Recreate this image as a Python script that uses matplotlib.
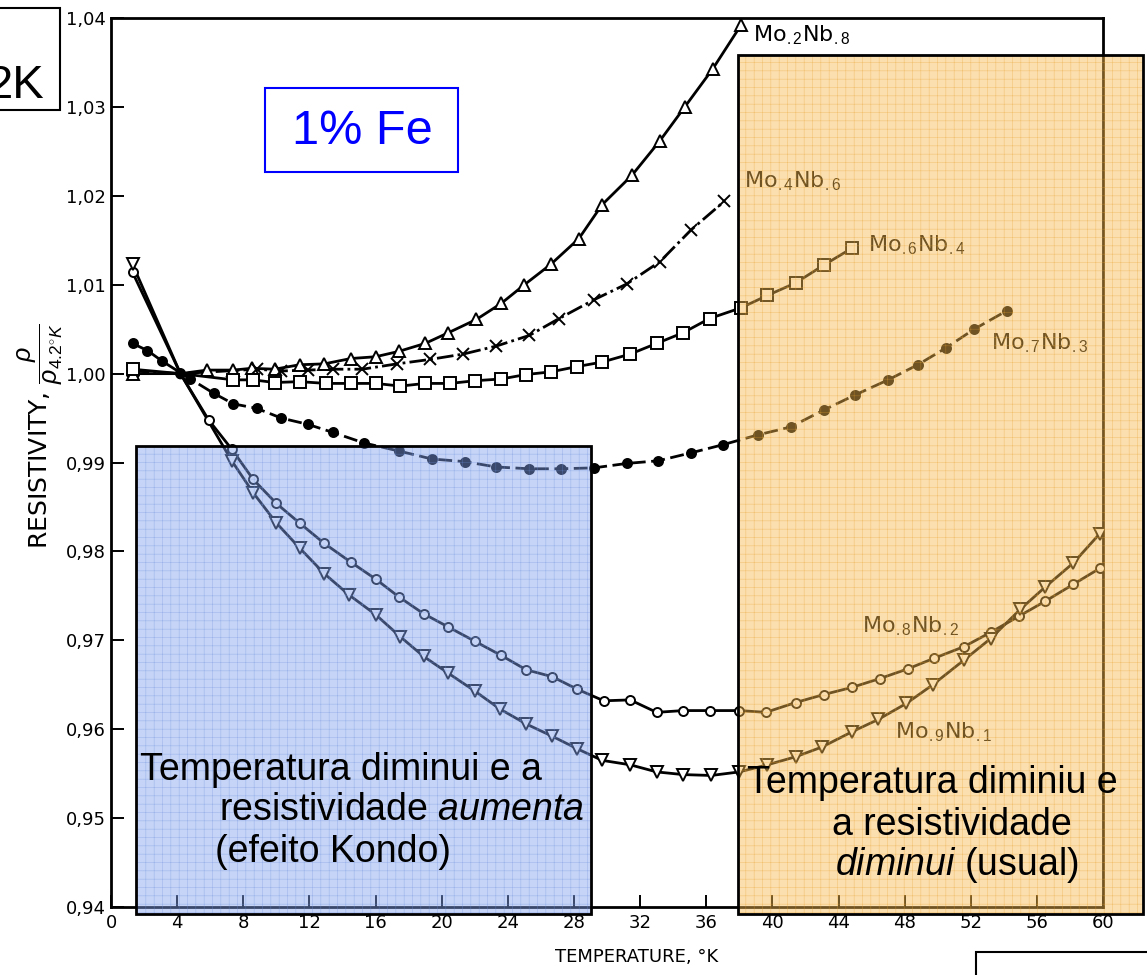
import numpy as np
import matplotlib
matplotlib.use("Agg")
import matplotlib.pyplot as plt
from matplotlib.patches import Rectangle

plt.rcParams["mathtext.fontset"] = "custom"
plt.rcParams["mathtext.rm"] = "Liberation Sans"
plt.rcParams["mathtext.it"] = "Liberation Sans:italic"
plt.rcParams["hatch.linewidth"] = 0.4

# --- data (T in K, rho / rho_4.2K) ---
t_28 = [1.3, 4.2, 5.8, 7.4, 8.5, 9.9, 11.4, 12.9, 14.5, 16.0, 17.4, 19.0, 20.4, 22.1,
        23.6, 25.0, 26.6, 28.3, 29.7, 31.5, 33.2, 34.7, 36.4, 38.1]
r_28 = [1.0000, 1.0000, 1.0004, 1.0004, 1.0006, 1.0005, 1.0010, 1.0011, 1.0017, 1.0019,
        1.0025, 1.0034, 1.0046, 1.0061, 1.0079, 1.0100, 1.0123, 1.0152, 1.0190, 1.0223,
        1.0262, 1.0300, 1.0343, 1.0392]

t_46 = [1.3, 4.2, 8.8, 10.3, 11.9, 13.4, 15.2, 17.3, 19.3, 21.3, 23.3, 25.3, 27.1, 29.2,
        31.2, 33.2, 35.1, 37.1]
r_46 = [1.0003, 1.0000, 1.0005, 1.0003, 1.0004, 1.0005, 1.0005, 1.0011, 1.0016, 1.0022,
        1.0031, 1.0043, 1.0062, 1.0083, 1.0101, 1.0126, 1.0162, 1.0194]

t_64 = [1.3, 4.2, 7.4, 8.6, 9.9, 11.4, 13.0, 14.5, 16.0, 17.5, 19.0, 20.5, 22.0, 23.6,
        25.1, 26.6, 28.2, 29.7, 31.4, 33.0, 34.6, 36.2, 38.1, 39.7, 41.4, 43.1, 44.8]
r_64 = [1.0005, 1.0000, 0.9993, 0.9993, 0.9990, 0.9991, 0.9989, 0.9989, 0.9989, 0.9986,
        0.9989, 0.9989, 0.9992, 0.9994, 0.9999, 1.0002, 1.0008, 1.0013, 1.0022, 1.0034,
        1.0046, 1.0062, 1.0074, 1.0088, 1.0102, 1.0122, 1.0141]

t_73 = [1.3, 2.2, 3.1, 4.2, 4.8, 6.2, 7.4, 8.8, 10.3, 11.9, 13.4, 15.3, 17.4, 19.4, 21.4,
        23.3, 25.3, 27.2, 29.2, 31.2, 33.1, 35.1, 37.0, 39.1, 41.1, 43.1, 45.0, 47.0, 48.8,
        50.5, 52.2, 54.2]
r_73 = [1.0034, 1.0026, 1.0014, 1.0001, 0.9994, 0.9978, 0.9966, 0.9961, 0.9950, 0.9943,
        0.9934, 0.9922, 0.9913, 0.9904, 0.9901, 0.9895, 0.9893, 0.9893, 0.9894, 0.9899,
        0.9902, 0.9911, 0.9920, 0.9931, 0.9940, 0.9959, 0.9976, 0.9993, 1.0010, 1.0029,
        1.0050, 1.0071]

t_82 = [1.3, 4.2, 5.9, 7.3, 8.6, 10.0, 11.4, 12.9, 14.5, 16.0, 17.4, 18.9, 20.4, 22.0,
        23.6, 25.1, 26.7, 28.2, 29.8, 31.4, 33.0, 34.6, 36.2, 38.0, 39.6, 41.4, 43.1, 44.8,
        46.5, 48.2, 49.8, 51.6, 53.2, 54.9, 56.5, 58.2, 59.8]
r_82 = [1.0114, 1.0000, 0.9948, 0.9915, 0.9881, 0.9854, 0.9832, 0.9809, 0.9788, 0.9769,
        0.9749, 0.9730, 0.9715, 0.9699, 0.9683, 0.9667, 0.9659, 0.9645, 0.9632, 0.9633,
        0.9619, 0.9621, 0.9621, 0.9621, 0.9619, 0.9630, 0.9639, 0.9647, 0.9657, 0.9668,
        0.9680, 0.9693, 0.9709, 0.9727, 0.9744, 0.9763, 0.9781]

t_91 = [1.3, 4.2, 7.3, 8.6, 10.0, 11.4, 12.9, 14.4, 16.0, 17.5, 18.9, 20.4, 22.0, 23.5,
        25.1, 26.7, 28.2, 29.7, 31.4, 33.0, 34.6, 36.3, 38.0, 39.7, 41.4, 43.0, 44.8, 46.4,
        48.1, 49.7, 51.6, 53.2, 55.0, 56.5, 58.2, 59.8]
r_91 = [1.0123, 1.0000, 0.9902, 0.9866, 0.9832, 0.9804, 0.9775, 0.9751, 0.9729, 0.9704,
        0.9682, 0.9663, 0.9643, 0.9623, 0.9606, 0.9592, 0.9578, 0.9565, 0.9560, 0.9552,
        0.9549, 0.9548, 0.9552, 0.9560, 0.9569, 0.9580, 0.9597, 0.9611, 0.9629, 0.9650,
        0.9678, 0.9702, 0.9735, 0.9760, 0.9787, 0.9820]

series = [
    (t_28, r_28, "^", "none", "-", r"Mo$_{.2}$Nb$_{.8}$", (38.8, 1.0381)),
    (t_46, r_46, "x", "none", (0, (6, 1.5, 1, 1.5)), r"Mo$_{.4}$Nb$_{.6}$", (38.3, 1.0217)),
    (t_64, r_64, "s", "none", "-", r"Mo$_{.6}$Nb$_{.4}$", (45.8, 1.0144)),
    (t_73, r_73, "o", "black", (0, (5, 2)), r"Mo$_{.7}$Nb$_{.3}$", (53.2, 1.0034)),
    (t_82, r_82, "o", "none", "-", r"Mo$_{.8}$Nb$_{.2}$", (45.4, 0.9716)),
    (t_91, r_91, "v", "none", "-", r"Mo$_{.9}$Nb$_{.1}$", (47.4, 0.9597)),
]

x_ticks = np.arange(0, 61, 4)
y_ticks = np.round(np.arange(0.94, 1.0401, 0.01), 2)

fig = plt.figure(figsize=(11.47, 9.75), dpi=100)
ax = fig.add_axes([0.0968, 0.0697, 0.8649, 0.9118])

for t, r, mk, mfc, ls, label, pos in series:
    t = np.array(t)
    r = np.array(r)
    keep = t != 4.2 if mk != "o" or mfc == "none" else np.ones_like(t, bool)
    ax.plot(t, r, color="black", lw=2.0, ls=ls, zorder=3)
    ax.plot(t[keep], r[keep], ls="none", marker=mk, ms=8.5 if mk != "o" else 6.5,
            mfc="white" if mfc == "none" else mfc, mec="black", mew=1.4, zorder=4)
    ax.text(pos[0], pos[1], label, fontsize=16, va="center", ha="left", zorder=5)

ax.plot([4.2], [1.0], "o", color="black", ms=6, zorder=5)

ax.set_xlim(0, 60)
ax.set_ylim(0.94, 1.04)
ax.set_xticks(x_ticks)
ax.set_yticks(y_ticks)
ax.set_xticklabels([str(v) for v in x_ticks], fontsize=13)
ax.set_yticklabels([f"{v:.2f}".replace(".", ",") for v in y_ticks], fontsize=13)
ax.tick_params(direction="in", length=9, width=1.4, pad=5)
ax.tick_params(axis="y", pad=4)
for s in ax.spines.values():
    s.set_linewidth(2)
ax.set_xlabel("TEMPERATURE, °K", fontsize=13)
ax.xaxis.set_label_coords(0.53, -0.046)
ax.set_ylabel(r"RESISTIVITY, $\dfrac{\rho}{\rho_{4.2^{\circ}K}}$", fontsize=18)
ax.yaxis.set_label_coords(-0.046, 0.53)

# translucent highlight boxes
y_lo = 0.9392
boxes = [
    (1.5, 29.0, 0.9919, "#7FA0EE", "#6F90DE"),
    (37.9, 62.4, 1.0358, "#F8BA4F", "#E8A030"),
]
for x0, x1, y1, fc, hc in boxes:
    ax.add_patch(Rectangle((x0, y_lo), x1 - x0, y1 - y_lo, facecolor=fc, edgecolor=hc,
                           hatch="++", lw=0, alpha=0.45, clip_on=False, zorder=6))
    ax.add_patch(Rectangle((x0, y_lo), x1 - x0, y1 - y_lo, fill=False, edgecolor="black",
                           lw=2, clip_on=False, zorder=7))

W, H = 1147, 975


def fx(px):
    return px / W


def fy(py):
    return 1 - py / H


txt = dict(fontsize=27, family="Liberation Sans", zorder=10)
fig.text(fx(140), fy(770), "Temperatura diminui e a", ha="left", va="center", **txt)
fig.text(fx(585), fy(810), r"resistividade $\mathit{aumenta}$", ha="right", va="center", **txt)
fig.text(fx(215), fy(852), "(efeito Kondo)", ha="left", va="center", **txt)
fig.text(fx(932), fy(783), "Temperatura diminiu e", ha="center", va="center", **txt)
fig.text(fx(952), fy(825), "a resistividade", ha="center", va="center", **txt)
fig.text(fx(957), fy(865), r"$\mathit{diminui}$ (usual)", ha="center", va="center", **txt)

# "1% Fe" label box
fig.patches.append(Rectangle((fx(265), fy(172)), fx(458) - fx(265), fy(88) - fy(172),
                             transform=fig.transFigure, fill=False, edgecolor="#0000FF", lw=1.5))
fig.text(fx(362), fy(131), "1% Fe", color="#0000FF", fontsize=35, family="Liberation Sans",
         ha="center", va="center")

# cut-off box at top left
fig.patches.append(Rectangle((fx(-20), fy(110)), fx(80), fy(8) - fy(110),
                             transform=fig.transFigure, fill=False, edgecolor="black", lw=1.5))
fig.text(fx(44), fy(86), "2K", fontsize=34, family="Liberation Sans", ha="right", va="center")

# cut-off box at bottom right
fig.patches.append(Rectangle((fx(976), fy(1000)), fx(300), fy(952) - fy(1000),
                             transform=fig.transFigure, fill=False, edgecolor="black", lw=1.5))

fig.savefig("out.png", dpi=100)
